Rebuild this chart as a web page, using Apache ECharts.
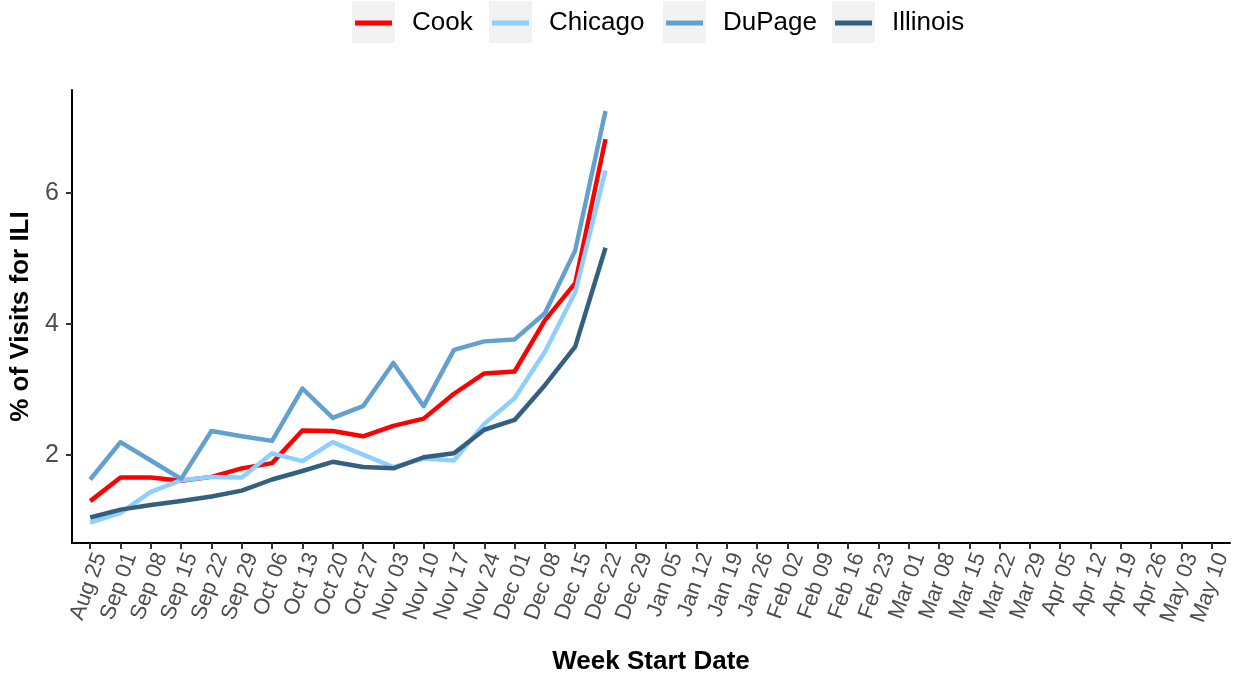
<!DOCTYPE html>
<html>
<head>
<meta charset="utf-8">
<script src="https://cdn.jsdelivr.net/npm/echarts@6/dist/echarts.min.js"></script>
<style>
  html, body { margin: 0; padding: 0; background: #fff; }
  #myChart { width: 1233px; height: 679px; }
</style>
</head>
<body>
<div id="myChart"></div>
<script>
// week start dates (tick labels)
var weeks = ['Aug 25', 'Sep 01', 'Sep 08', 'Sep 15', 'Sep 22', 'Sep 29', 'Oct 06', 'Oct 13',
  'Oct 20', 'Oct 27', 'Nov 03', 'Nov 10', 'Nov 17', 'Nov 24', 'Dec 01', 'Dec 08', 'Dec 15',
  'Dec 22', 'Dec 29', 'Jan 05', 'Jan 12', 'Jan 19', 'Jan 26', 'Feb 02', 'Feb 09', 'Feb 16',
  'Feb 23', 'Mar 01', 'Mar 08', 'Mar 15', 'Mar 22', 'Mar 29', 'Apr 05', 'Apr 12', 'Apr 19',
  'Apr 26', 'May 03', 'May 10'];

// % of visits for ILI, one value per week (Aug 25 .. Dec 22)
var cook     = [1.29, 1.65, 1.65, 1.60, 1.66, 1.79, 1.87, 2.37, 2.36, 2.28, 2.44, 2.55, 2.93, 3.24, 3.27, 4.05, 4.62, 6.82];
var chicago  = [0.96, 1.11, 1.43, 1.61, 1.66, 1.65, 2.02, 1.90, 2.19, 2.00, 1.81, 1.94, 1.91, 2.47, 2.86, 3.57, 4.48, 6.34];
var dupage   = [1.62, 2.19, 1.91, 1.63, 2.36, 2.28, 2.21, 3.01, 2.56, 2.74, 3.40, 2.74, 3.60, 3.73, 3.76, 4.16, 5.12, 7.25];
var illinois = [1.04, 1.16, 1.23, 1.29, 1.36, 1.45, 1.62, 1.75, 1.89, 1.81, 1.79, 1.96, 2.02, 2.38, 2.53, 3.06, 3.65, 5.16];

var yTicks = [2, 4, 6];

var names  = ['Cook', 'Chicago', 'DuPage', 'Illinois'];
var values = [cook, chicago, dupage, illinois];
var colors = ['#ff0000', '#8ecfff', '#62a1cf', '#33607f'];

var font = '"Liberation Sans", Arial, Helvetica, sans-serif';
var myChart = echarts.init(document.getElementById('myChart'));

var weekIdx = weeks.map(function (w, i) { return i; });
var legendLeft = [355, 492, 666, 835];

myChart.setOption({
  animation: false,
  textStyle: { fontFamily: font },
  grid: { left: 72, right: 3, top: 90, bottom: 136, outerBoundsMode: 'none', containLabel: false },
  legend: names.map(function (n, i) {
    return {
      data: [n], left: legendLeft[i], top: 10, padding: 0, z: 10,
      icon: 'rect', itemWidth: 37, itemHeight: 5,
      textStyle: { fontSize: 26, color: '#000', padding: [0, 0, 0, 15], lineHeight: 26 }
    };
  }),
  graphic: legendLeft.map(function (x) {
    return { type: 'rect', z: 0, shape: { x: x - 3, y: 1, width: 43, height: 42 }, style: { fill: '#f2f2f2' } };
  }),
  xAxis: {
    type: 'value', min: -0.6, max: weeks.length - 0.4,
    name: 'Week Start Date', nameLocation: 'middle', nameGap: 106, nameMoveOverlap: false,
    nameTextStyle: { fontSize: 26, fontWeight: 'bold', color: '#000' },
    splitLine: { show: false },
    axisLine: { show: true, onZero: false, lineStyle: { color: '#000', width: 2 } },
    axisTick: { show: true, customValues: weekIdx, length: 6, lineStyle: { color: '#333', width: 2 } },
    axisLabel: {
      customValues: weekIdx, rotate: 70, margin: 7, fontSize: 22, color: '#4d4d4d',
      verticalAlign: 'top',
      formatter: function (v) { return weeks[Math.round(v)]; }
    }
  },
  yAxis: {
    type: 'value', min: 0.65, max: 7.57,
    name: '% of Visits for ILI', nameLocation: 'middle', nameRotate: 90, nameGap: 38, nameMoveOverlap: false,
    nameTextStyle: { fontSize: 26, fontWeight: 'bold', color: '#000' },
    splitLine: { show: false },
    axisLine: { show: true, onZero: false, lineStyle: { color: '#000', width: 2 } },
    axisTick: { show: true, customValues: yTicks, length: 6, lineStyle: { color: '#333', width: 2 } },
    axisLabel: { customValues: yTicks, margin: 13, fontSize: 25, color: '#4d4d4d' }
  },
  series: names.map(function (n, i) {
    return {
      name: n, type: 'line', showSymbol: false, symbol: 'none',
      color: colors[i],
      lineStyle: { width: 4.5, color: colors[i], cap: 'butt', join: 'round' },
      data: values[i].map(function (v, k) { return [k, v]; })
    };
  })
});
</script>
</body>
</html>
